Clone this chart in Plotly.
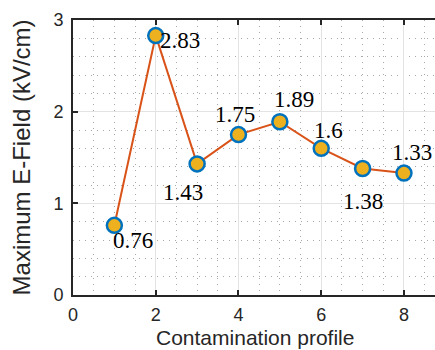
import plotly.graph_objects as go

# Maximum electric field for each contamination profile
profiles = [1, 2, 3, 4, 5, 6, 7, 8]
max_field = [0.76, 2.83, 1.43, 1.75, 1.89, 1.6, 1.38, 1.33]

# label offsets in pixels (dx right, dy up) relative to each point
label_dx = [19, 24, -14, -3, 14, 7, 0, 8]
label_dy = [-15, -5, -29, 20, 22, 18, -33, 21]

fig = go.Figure()
fig.add_trace(go.Scatter(
    x=profiles, y=max_field, mode="lines+markers",
    line=dict(color="#D95319", width=2),
    marker=dict(size=15, color="#EDB120", line=dict(color="#0072BD", width=2.5)),
    showlegend=False, hoverinfo="skip",
))

for xv, yv, dx, dy in zip(profiles, max_field, label_dx, label_dy):
    fig.add_annotation(
        x=xv, y=yv, text=f"{yv:g}", showarrow=False,
        xanchor="center", yanchor="middle", xshift=dx, yshift=dy,
        font=dict(family="Liberation Serif", size=23, color="#000000"),
    )

title_font = dict(family="Liberation Sans", size=21, color="#262626")

# axis titles placed in paper coordinates
fig.add_annotation(
    xref="paper", yref="paper", x=0.504, y=-0.109,
    xanchor="center", yanchor="top", showarrow=False, borderpad=0,
    text="Contamination profile", font=title_font,
)
fig.add_annotation(
    xref="paper", yref="paper", x=-0.141, y=0.5,
    xanchor="center", yanchor="middle", showarrow=False, textangle=-90,
    text="Maximum E-Field (kV/cm)", font=dict(title_font, size=24),
)

axis_common = dict(
    showline=True, linecolor="#262626", linewidth=2,
    ticks="inside", ticklen=5, tickwidth=1.5, tickcolor="#262626",
    showgrid=True, gridcolor="#e3e3e3", gridwidth=1,
    zeroline=False,
    tickfont=dict(family="Liberation Sans", size=18, color="#262626"),
)
minor_grid = dict(showgrid=True, gridcolor="#a8a8a8", griddash="1px,5px", gridwidth=1)

fig.update_xaxes(
    **axis_common, range=[0, 8.75], tick0=0, dtick=2, mirror="ticks",
    minor=dict(dtick=0.5, **minor_grid),
    ticklabelstandoff=2,
)
fig.update_yaxes(
    **axis_common, range=[0, 3], tick0=0, dtick=1, mirror=False,
    minor=dict(dtick=0.2, **minor_grid),
    ticklabelstandoff=4,
)

fig.update_layout(
    width=435, height=350,
    margin=dict(l=73, r=0, t=20, b=55),
    paper_bgcolor="white", plot_bgcolor="white",
)

fig.write_html("out.html")
